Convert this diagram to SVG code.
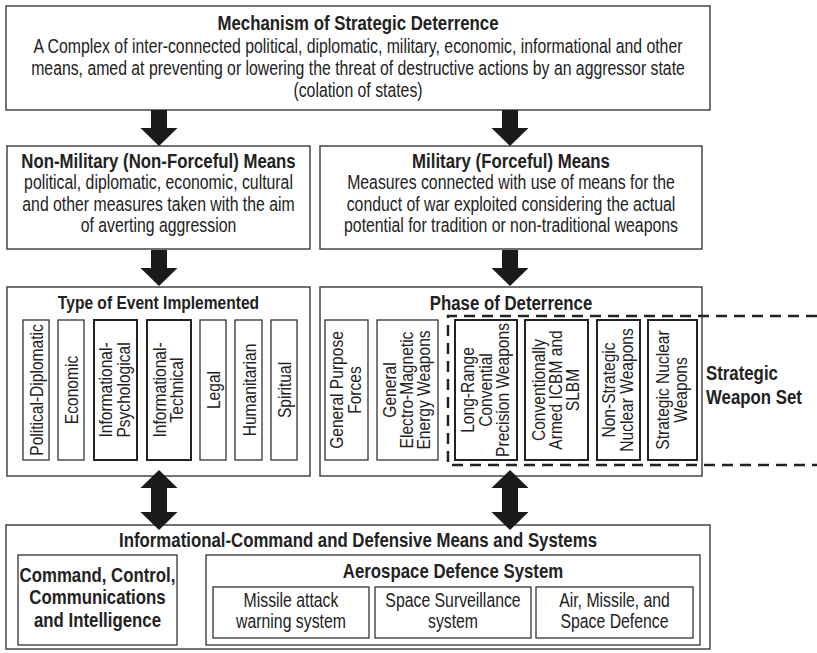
<svg xmlns="http://www.w3.org/2000/svg" width="817" height="653" viewBox="0 0 817 653">
<style>
  .box { fill: #fff; stroke: #444; stroke-width: 1.5; }
  .sub { fill: #fff; stroke: #333; stroke-width: 1.3; }
  .subk { fill: #fff; stroke: #222; stroke-width: 2; }
  text { font-family: "Liberation Sans", Arial, sans-serif; fill: #222; }
  .t { font-size: 20.5px; font-weight: bold; text-anchor: middle; }
  .b { font-size: 19.3px; text-anchor: middle; }
  .v { font-size: 19px; text-anchor: middle; }
  .arrow { fill: #1a1a1a; }
  .dash { fill: none; stroke: #222; stroke-width: 2.5; stroke-dasharray: 11 7; }
</style>
<defs>
  <path id="down" d="M-8,0 H8 V18 H18.5 L0,36 L-18.5,18 H-8 Z"/>
  <path id="dbl" d="M0,0 L18.5,18 H8 V42 H18.5 L0,60 L-18.5,42 H-8 V18 H-18.5 Z"/>
</defs>

<g id="mechanism">
  <rect class="box" x="6" y="6" width="704" height="104"/>
  <text class="t" transform="translate(358,30) scale(.82,1)">Mechanism of Strategic Deterrence</text>
  <text class="b" transform="translate(358,53) scale(.82,1)">A Complex of inter-connected political, diplomatic, military, economic, informational and other</text>
  <text class="b" transform="translate(358,75) scale(.82,1)">means, amed at preventing or lowering the threat of destructive actions by an aggressor state</text>
  <text class="b" transform="translate(358,97) scale(.82,1)">(colation of states)</text>
</g>

<g id="non-military">
  <rect class="box" x="7" y="146" width="303" height="103"/>
  <text class="t" transform="translate(158.5,168) scale(.82,1)">Non-Military (Non-Forceful) Means</text>
  <text class="b" transform="translate(158.5,189) scale(.82,1)">political, diplomatic, economic, cultural</text>
  <text class="b" transform="translate(158.5,211) scale(.82,1)">and other measures taken with the aim</text>
  <text class="b" transform="translate(158.5,232) scale(.82,1)">of averting aggression</text>
</g>

<g id="military">
  <rect class="box" x="320" y="146" width="382" height="103"/>
  <text class="t" transform="translate(511,168) scale(.82,1)">Military (Forceful) Means</text>
  <text class="b" transform="translate(511,189) scale(.82,1)">Measures connected with use of means for the</text>
  <text class="b" transform="translate(511,211) scale(.82,1)">conduct of war exploited considering the actual</text>
  <text class="b" transform="translate(511,232) scale(.82,1)">potential for tradition or non-traditional weapons</text>
</g>

<g id="type-of-event">
  <rect class="box" x="7" y="287" width="303" height="189"/>
  <text class="t" style="font-size:19px" transform="translate(158.5,309) scale(.82,1)">Type of Event Implemented</text>
  <g id="political-diplomatic">
    <rect class="sub" x="23" y="320" width="26" height="140"/>
    <text class="v" transform="translate(36,390) rotate(-90) scale(.82,1)" y="7">Political-Diplomatic</text>
  </g>
  <g id="economic">
    <rect class="sub" x="58" y="320" width="26" height="140"/>
    <text class="v" transform="translate(71,390) rotate(-90) scale(.82,1)" y="7">Economic</text>
  </g>
  <g id="info-psychological">
    <rect class="subk" x="94" y="320" width="43" height="140"/>
    <text class="v" transform="translate(115.5,390) rotate(-90) scale(.82,1)"><tspan x="0" y="-3.5">Informational-</tspan><tspan x="0" y="14">Psychological</tspan></text>
  </g>
  <g id="info-technical">
    <rect class="subk" x="147" y="320" width="44" height="140"/>
    <text class="v" transform="translate(169,390) rotate(-90) scale(.82,1)"><tspan x="0" y="-3.5">Informational-</tspan><tspan x="0" y="14">Technical</tspan></text>
  </g>
  <g id="legal">
    <rect class="sub" x="200" y="320" width="26" height="140"/>
    <text class="v" transform="translate(213,390) rotate(-90) scale(.82,1)" y="7">Legal</text>
  </g>
  <g id="humanitarian">
    <rect class="sub" x="235" y="320" width="27" height="140"/>
    <text class="v" transform="translate(248.5,390) rotate(-90) scale(.82,1)" y="7">Humanitarian</text>
  </g>
  <g id="spiritual">
    <rect class="sub" x="271" y="320" width="26" height="140"/>
    <text class="v" transform="translate(284,390) rotate(-90) scale(.82,1)" y="7">Spiritual</text>
  </g>
</g>

<g id="phase-of-deterrence">
  <rect class="box" x="320" y="287" width="382" height="189"/>
  <text class="t" transform="translate(511,310) scale(.82,1)">Phase of Deterrence</text>
  <g id="general-purpose">
    <rect class="sub" x="325" y="320" width="43" height="140"/>
    <text class="v" transform="translate(346.5,390) rotate(-90) scale(.82,1)"><tspan x="0" y="-3.5">General Purpose</tspan><tspan x="0" y="14">Forces</tspan></text>
  </g>
  <g id="electro-magnetic">
    <rect class="sub" x="377" y="320" width="61" height="140"/>
    <text class="v" transform="translate(407.5,390) rotate(-90) scale(.82,1)"><tspan x="0" y="-12">General</tspan><tspan x="0" y="5.5">Electro-Magnetic</tspan><tspan x="0" y="23">Energy Weapons</tspan></text>
  </g>
  <g id="long-range">
    <rect class="subk" x="455" y="320" width="62" height="140"/>
    <text class="v" transform="translate(486,390) rotate(-90) scale(.82,1)"><tspan x="0" y="-12">Long-Range</tspan><tspan x="0" y="5.5">Convential</tspan><tspan x="0" y="23">Precision Weapons</tspan></text>
  </g>
  <g id="conventionally-armed">
    <rect class="subk" x="525" y="320" width="63" height="140"/>
    <text class="v" transform="translate(556.5,390) rotate(-90) scale(.82,1)"><tspan x="0" y="-12">Conventionally</tspan><tspan x="0" y="5.5">Armed ICBM and</tspan><tspan x="0" y="23">SLBM</tspan></text>
  </g>
  <g id="non-strategic-nuclear">
    <rect class="subk" x="597" y="320" width="43" height="140"/>
    <text class="v" transform="translate(618.5,390) rotate(-90) scale(.82,1)"><tspan x="0" y="-3.5">Non-Strategic</tspan><tspan x="0" y="14">Nuclear Weapons</tspan></text>
  </g>
  <g id="strategic-nuclear">
    <rect class="subk" x="648" y="320" width="49" height="140"/>
    <text class="v" transform="translate(672.5,390) rotate(-90) scale(.82,1)"><tspan x="0" y="-3.5">Strategic Nuclear</tspan><tspan x="0" y="14">Weapons</tspan></text>
  </g>
</g>

<g id="strategic-weapon-set">
  <path class="dash" d="M817,316 H448 V465 H817"/>
  <text class="t" style="text-anchor:start" transform="translate(706,380) scale(.82,1)">Strategic</text>
  <text class="t" style="text-anchor:start" transform="translate(706,404) scale(.82,1)">Weapon Set</text>
</g>

<g id="info-command">
  <rect class="box" x="6" y="525" width="704" height="124"/>
  <text class="t" transform="translate(358,547) scale(.82,1)">Informational-Command and Defensive Means and Systems</text>
  <g id="c3i">
    <rect class="sub" x="18" y="555" width="159" height="90"/>
    <text class="t" transform="translate(97.5,582) scale(.82,1)">Command, Control,</text>
    <text class="t" transform="translate(97.5,604) scale(.82,1)">Communications</text>
    <text class="t" transform="translate(97.5,627) scale(.82,1)">and Intelligence</text>
  </g>
  <g id="aerospace">
    <rect class="sub" x="206" y="555" width="494" height="90"/>
    <text class="t" transform="translate(453,578) scale(.82,1)">Aerospace Defence System</text>
    <g id="missile-attack">
      <rect class="sub" x="213" y="587" width="156" height="51"/>
      <text class="b" transform="translate(291,607) scale(.82,1)">Missile attack</text>
      <text class="b" transform="translate(291,628) scale(.82,1)">warning system</text>
    </g>
    <g id="space-surveillance">
      <rect class="sub" x="375" y="587" width="156" height="51"/>
      <text class="b" transform="translate(453,607) scale(.82,1)">Space Surveillance</text>
      <text class="b" transform="translate(453,628) scale(.82,1)">system</text>
    </g>
    <g id="air-missile-space">
      <rect class="sub" x="536" y="587" width="157" height="51"/>
      <text class="b" transform="translate(614.5,607) scale(.82,1)">Air, Missile, and</text>
      <text class="b" transform="translate(614.5,628) scale(.82,1)">Space Defence</text>
    </g>
  </g>
</g>

<g id="connectors" class="arrow">
  <use href="#down" x="159" y="110"/>
  <use href="#down" x="510" y="110"/>
  <use href="#down" x="159" y="250"/>
  <use href="#down" x="510" y="250"/>
  <use href="#dbl" x="159" y="470"/>
  <use href="#dbl" x="510" y="470"/>
</g>
</svg>
